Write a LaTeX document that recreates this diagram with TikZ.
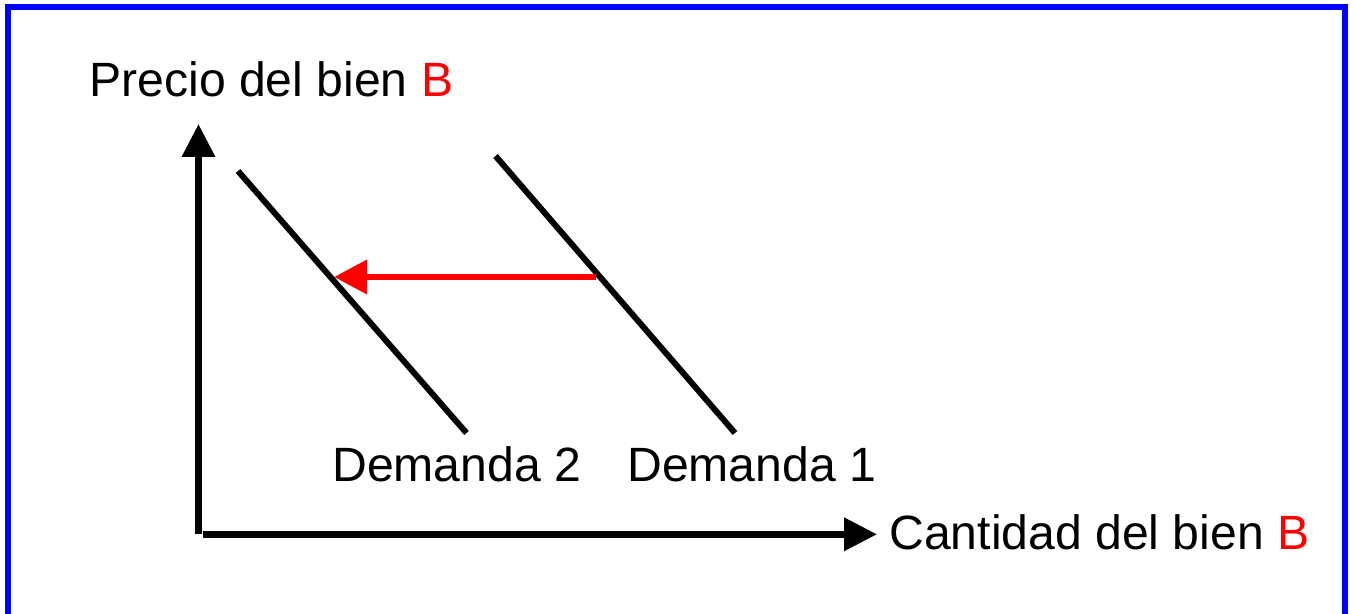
\documentclass[tikz,border=0pt]{standalone}
\usepackage{fontspec}
\setmainfont{Liberation Sans}
\usetikzlibrary{arrows.meta}

\begin{document}
\begin{tikzpicture}[x=0.02cm, y=-0.02cm,
    axis/.style={line width=3.8pt, -{Triangle[length=0.66cm, width=0.64cm]}},
    demand/.style={line width=3.4pt},
    shiftarrow/.style={red, line width=3.8pt, -{Triangle[length=0.66cm, width=0.66cm]}},
    lbl/.style={inner sep=0pt, anchor=base west, font=\fontsize{27.4}{32}\selectfont}]
    \useasboundingbox (0,0) rectangle (1354,614);

    % Blue frame (runs past the bottom edge)
    \begin{scope}
        \clip (0,0) rectangle (1354,614);
        \draw[blue, line width=0.12cm] (8,7) rectangle (1345,640);
    \end{scope}

    % Axis points
    \coordinate (O) at (198.5,534);
    \coordinate (Ytop) at (198.5,124);
    \coordinate (Xstart) at (202.7,534.3);
    \coordinate (Xend) at (877,534.3);

    % Axes
    \draw[axis] (O) -- (Ytop);
    \draw[axis] (Xstart) -- (Xend);

    % Demand curves
    \coordinate (D2top) at (238,171);
    \coordinate (D2bot) at (466.5,433);
    \coordinate (D1top) at (495.5,156);
    \coordinate (D1bot) at (735,433);
    \draw[demand] (D2top) -- (D2bot);
    \draw[demand] (D1top) -- (D1bot);

    % Shift from demand 1 to demand 2 (red)
    \coordinate (S1) at (596,277);
    \coordinate (S2) at (334,277);
    \draw[shiftarrow] (S1) -- (S2);

    % Labels
    \node[lbl] (ylabel) at (89,97) {Precio del bien \textcolor{red}{B}};
    \node[lbl] (dem2) at (332,481) {Demanda 2};
    \node[lbl] (dem1) at (627,481) {Demanda 1};
    \node[lbl] (xlabel) at (889,549) {Cantidad del bien \textcolor{red}{B}};
\end{tikzpicture}
\end{document}
